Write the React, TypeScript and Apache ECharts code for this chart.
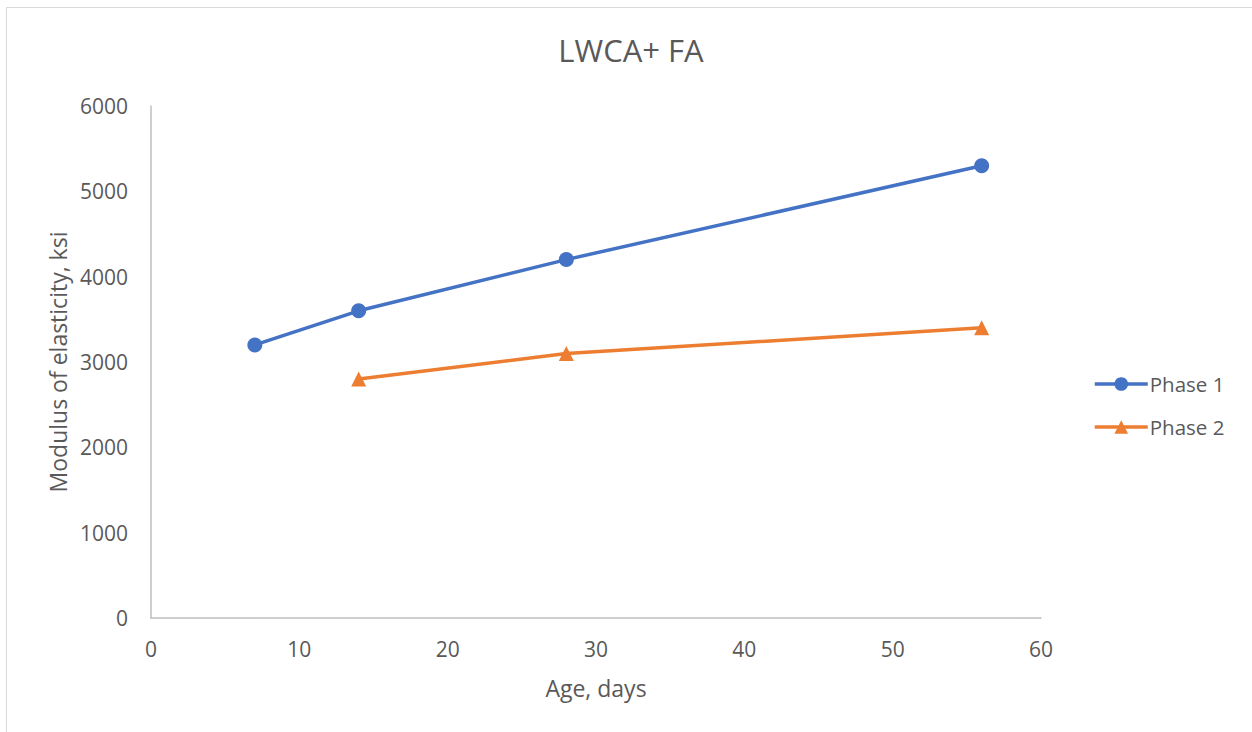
import React, { useEffect, useRef } from "react";
import * as echarts from "echarts";

const titleText = "LWCA+ FA";
const xAxisName = "Age, days";
const yAxisName = "Modulus of elasticity, ksi";
const phase1Name = "Phase 1";
const phase1Ages = [7, 14, 28, 56];
const phase1Values = [3200, 3600, 4200, 5300];
const phase2Name = "Phase 2";
const phase2Ages = [14, 28, 56];
const phase2Values = [2800, 3100, 3400];

const FONT = "'Open Sans', 'Noto Sans', sans-serif";
const TXT = "#595959";

export default function App() {
  const ref = useRef<HTMLDivElement>(null);
  useEffect(() => {
    document.body.style.margin = "0";
    const chart = echarts.init(ref.current!, null, { renderer: "svg" });
    chart.setOption({
      animation: false,
      backgroundColor: "#ffffff",
      textStyle: { fontFamily: FONT },
      title: {
        text: titleText,
        left: 631,
        top: 29,
        padding: 0,
        textAlign: "center",
        textStyle: { fontFamily: FONT, fontSize: 31, fontWeight: "normal", color: TXT, lineHeight: 42 },
      },
      graphic: [
        {
          type: "rect",
          shape: { x: 6.5, y: 7.5, width: 1260, height: 740 },
          style: { fill: "none", stroke: "#d9d9d9", lineWidth: 1 },
          silent: true,
        },
      ],
      legend: {
        orient: "vertical",
        left: 1093,
        top: 373,
        padding: 0,
        itemWidth: 53,
        itemHeight: 17,
        itemGap: 21,
        lineStyle: { width: 3.5 },
        textStyle: { fontFamily: FONT, fontSize: 20.5, color: TXT, lineHeight: 22, padding: [0, 0, 0, -3] },
        data: [phase1Name, phase2Name],
      },
      grid: { left: 151, right: 211, top: 106, bottom: 114, containLabel: false },
      xAxis: {
        type: "value",
        min: 0,
        max: 60,
        interval: 10,
        name: xAxisName,
        nameLocation: "middle",
        nameGap: 58,
        nameTextStyle: { fontFamily: FONT, fontSize: 23, color: TXT },
        axisLine: { show: true, lineStyle: { color: "#bfbfbf", width: 1.5 } },
        axisTick: { show: false },
        splitLine: { show: false },
        axisLabel: { fontFamily: FONT, fontSize: 21, color: TXT, margin: 20 },
      },
      yAxis: {
        type: "value",
        min: 0,
        max: 6000,
        interval: 1000,
        name: yAxisName,
        nameLocation: "middle",
        nameGap: 82,
        nameTextStyle: { fontFamily: FONT, fontSize: 23, color: TXT },
        axisLine: { show: true, lineStyle: { color: "#bfbfbf", width: 1.5 } },
        axisTick: { show: false },
        splitLine: { show: false },
        axisLabel: { fontFamily: FONT, fontSize: 21, color: TXT, margin: 23, formatter: (v: number) => String(v) },
      },
      series: [
        {
          name: phase1Name,
          type: "line",
          data: phase1Ages.map((a, i) => [a, phase1Values[i]]),
          symbol: "circle",
          symbolSize: 15,
          lineStyle: { width: 3.5, color: "#4472C4" },
          itemStyle: { color: "#4472C4" },
        },
        {
          name: phase2Name,
          type: "line",
          data: phase2Ages.map((a, i) => [a, phase2Values[i]]),
          symbol: "triangle",
          symbolSize: 15,
          lineStyle: { width: 3.5, color: "#ED7D31" },
          itemStyle: { color: "#ED7D31" },
        },
      ],
    });
    return () => chart.dispose();
  }, []);
  return <div ref={ref} style={{ width: 1252, height: 732 }} />;
}
